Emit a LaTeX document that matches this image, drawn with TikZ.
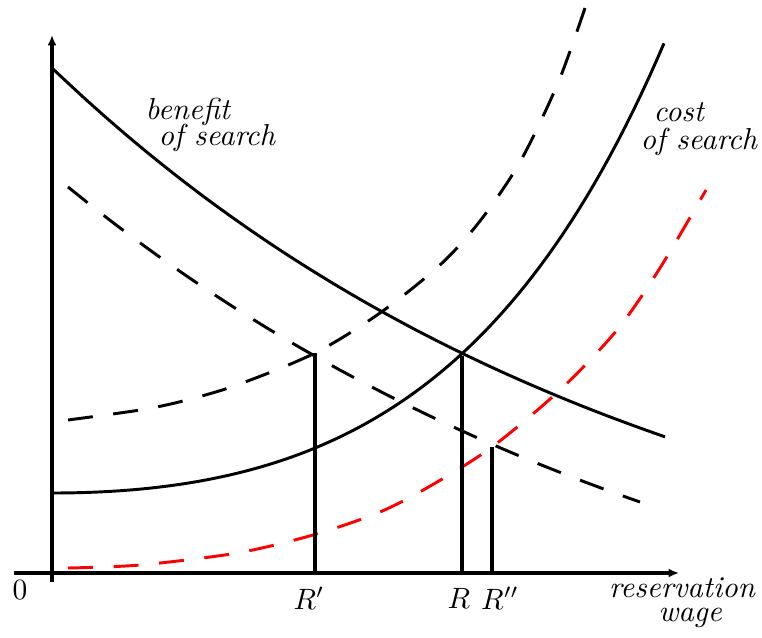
\documentclass[tikz,border=0pt]{standalone}
\usepackage{amsmath}
\usepackage{tikz}
\usetikzlibrary{arrows.meta}

\begin{document}
\begin{tikzpicture}[x=0.34pt, y=-0.34pt, every node/.style={inner sep=0pt},
    axis/.style={line width=1.5pt},
    curve/.style={line width=1pt},
    dashcurve/.style={line width=1pt, dash pattern=on 8.5pt off 7pt},
    drop/.style={line width=1.3pt},
    word/.style={font=\fontsize{10.3pt}{12pt}\selectfont\itshape}]
    \useasboundingbox (0,0) rectangle (762,637);

    % axes
    \coordinate (ybot) at (52,582);
    \coordinate (ytop) at (52,35);
    \coordinate (xleft) at (14,573);
    \coordinate (xright) at (679,573);
    \draw[axis, -{Latex[length=3.5pt,width=3pt]}] (ybot) -- (ytop);
    \draw[axis, -{Latex[length=3.5pt,width=3pt]}] (xleft) -- (xright);
    \node (zero) at (20,590) {$0$};

    % benefit of search
    \draw[curve] plot[domain=52:665, samples=60] (\x, {68+577*(1-exp(-0.00167*(\x-52)))});
    \draw[dashcurve] plot[domain=68:640, samples=60] (\x, {187+548*(1-exp(-0.0015*(\x-68)))});

    % cost of search
    \draw[curve] plot[domain=52:664, samples=80]
        (\x, {493-55.5*(exp(0.004*(\x-52))-1-0.004*(\x-52))});
    \draw[dashcurve] plot[smooth] coordinates {(68,420) (140,410) (183,401) (237,385) (315,353) (380,313)
        (440,265) (480,221) (520,162) (558,83) (585,8)};
    \draw[dashcurve, red] plot[smooth] coordinates {(68,568) (140,565) (237,553) (313,535) (380,512)
        (432,485) (492,447) (560,390) (617,330) (660,268) (706,190)};

    % reservation wages
    \coordinate (rp) at (315,353);
    \coordinate (rpb) at (315,573);
    \coordinate (r) at (462,356);
    \coordinate (rb) at (462,573);
    \coordinate (rpp) at (492,447);
    \coordinate (rppb) at (492,573);
    \draw[drop] (rpb) -- (rp);
    \draw[drop] (rb) -- (r);
    \draw[drop] (rppb) -- (rpp);
    \node (rplab) at (309,598) {$R'$};
    \node (rlab) at (459,598) {$R$};
    \node (rpplab) at (500,598) {$R''$};

    % labels
    \node[word, anchor=base west] (ben1) at (145,119) {benefit};
    \node[word, anchor=base west] (ben2) at (158,145) {of search};
    \node[word, anchor=base west] (cost1) at (653,121) {cost};
    \node[word, anchor=base west] (cost2) at (640,149) {of search};
    \node[word, anchor=base] (wage1) at (682,597) {reservation};
    \node[word, anchor=base] (wage2) at (690,621) {wage};
\end{tikzpicture}
\end{document}
